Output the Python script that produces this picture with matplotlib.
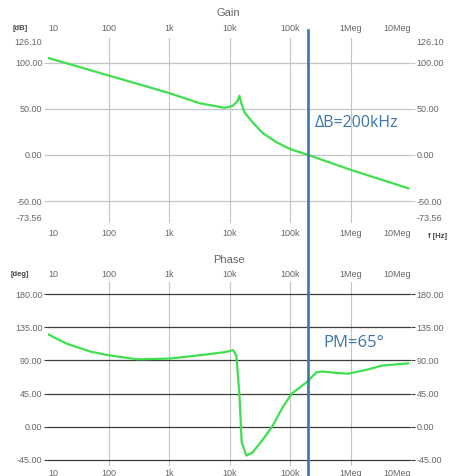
import matplotlib
matplotlib.use('Agg')
import matplotlib.pyplot as plt
from matplotlib.transforms import blended_transform_factory
from matplotlib.lines import Line2D

# Loop gain (Hz, dB)
gain_freq = [10, 30, 100, 300, 1e3, 3.2e3, 8.3e3, 11.2e3, 13.5e3, 14.6e3, 16e3, 17.7e3,
             24e3, 35e3, 59e3, 100e3, 200e3, 1e6, 9e6]
gain_db = [105, 96, 86, 77, 67, 56, 51, 53, 58, 64, 54, 46,
           35.5, 24, 14, 6.5, 0, -16, -36]

# Loop phase (Hz, deg)
phase_freq = [10, 20, 50, 100, 300, 1e3, 3.2e3, 8e3, 10e3, 11.5e3, 13e3, 14.6e3,
              15.9e3, 19e3, 24e3, 35e3, 51e3, 75e3, 107e3, 185e3, 271e3, 340e3,
              600e3, 910e3, 2e6, 3.3e6, 9e6]
phase_deg = [125.5, 113, 102, 97, 91.5, 92.5, 97, 101, 102.7, 104, 96, 43,
             -21, -39, -35, -18, 0.5, 26, 45, 60, 73.6, 75,
             73, 72, 78, 83, 86]

freq_ticks = [10, 100, 1e3, 1e4, 1e5, 1e6, 1e7]
freq_labels = ['10', '100', '1k', '10k', '100k', '1Meg', '10Meg']
gain_ticks = [126.10, 100, 50, 0, -50, -73.56]
phase_ticks = [180, 135, 90, 45, 0, -45]

crossover = 200e3
phase_margin = 65

GREEN = '#3fdf4f'
BLUE = '#3a75ad'
TXT = '#666666'

plt.rcParams['font.family'] = ['Liberation Sans', 'DejaVu Sans']

fig = plt.figure(figsize=(4.53, 4.76), dpi=100)
W, H = 453, 476
left, right = 48 / W, 411 / W
ax_g = fig.add_axes([left, 253 / H, right - left, 184.6 / H])
ax_p = fig.add_axes([left, 10 / H, right - left, 184 / H])


def style_freq_axis(ax, pad):
    ax.set_xscale('log')
    ax.set_xlim(10, 1e7)
    ax.set_xticks(freq_ticks)
    ax.set_xticklabels(freq_labels)
    ax.minorticks_off()
    ax.tick_params(axis='x', which='both', length=0, labeltop=True, labelbottom=True,
                   labelsize=6.5, labelcolor=TXT, pad=pad)
    ax.grid(axis='x', color='#c4c4c4', lw=0.8)
    ax.xaxis.get_gridlines()[0].set_visible(False)
    ax.xaxis.get_gridlines()[-1].set_visible(False)
    ticks = ax.xaxis.get_major_ticks()
    # end labels sit inside the plot edges
    ticks[0].label1.set_horizontalalignment('left')
    ticks[0].label2.set_horizontalalignment('left')
    ticks[-1].label1.set_horizontalalignment('right')
    ticks[-1].label2.set_horizontalalignment('right')
    for side in ax.spines.values():
        side.set_visible(False)


def style_value_axis(ax, ticks, lim, grid_color):
    ax.set_ylim(*lim)
    ax.set_yticks(ticks)
    ax.set_yticklabels(['%.2f' % v for v in ticks])
    ax.tick_params(axis='y', length=3, color=grid_color, labelleft=True, labelright=True,
                   left=True, right=True, labelsize=6.5, labelcolor=TXT, pad=1)
    ax.grid(axis='y', color=grid_color, lw=0.9)


# Gain panel
ax_g.plot(gain_freq, gain_db, color=GREEN, lw=1.6, solid_joinstyle='round')
style_freq_axis(ax_g, 4)
style_value_axis(ax_g, gain_ticks, (-73.56, 126.10), '#c4c4c4')
yt = ax_g.yaxis.get_major_ticks()
for i in (0, -1):
    ax_g.yaxis.get_gridlines()[i].set_visible(False)
    yt[i].tick1line.set_visible(False)
    yt[i].tick2line.set_visible(False)
# range labels are pulled inside the panel
yt[0].label1.set_verticalalignment('top')
yt[0].label2.set_verticalalignment('top')
yt[-1].label1.set_verticalalignment('bottom')
yt[-1].label2.set_verticalalignment('bottom')

# Phase panel
ax_p.plot(phase_freq, phase_deg, color=GREEN, lw=1.6, solid_joinstyle='round')
style_freq_axis(ax_p, 2)
style_value_axis(ax_p, phase_ticks, (-53.2, 196.4), '#3c3c3c')

# Titles and units
fig.text(228 / W, 1 - 13 / H, 'Gain', fontsize=8, color=TXT, ha='center', va='center')
fig.text(229 / W, 1 - 260 / H, 'Phase', fontsize=8, color=TXT, ha='center', va='center')
fig.text(20 / W, 1 - 28 / H, '[dB]', fontsize=5.5, fontweight='bold', color='#444',
         ha='center', va='center')
fig.text(20 / W, 1 - 275 / H, '[deg]', fontsize=5.5, fontweight='bold', color='#444',
         ha='center', va='center')
fig.text(438 / W, 1 - 236 / H, 'f [Hz]', fontsize=5.5, fontweight='bold', color='#444',
         ha='center', va='center')

# Crossover marker through both panels
tr = blended_transform_factory(ax_g.transData, fig.transFigure)
fig.add_artist(Line2D([crossover, crossover], [1 - 30 / H, 0], transform=tr,
                      color=BLUE, lw=1.9, zorder=5))

fig.text(315 / W, 1 - 123 / H, 'ΔB=%dkHz' % (crossover / 1e3), fontsize=11.5,
         color=BLUE, ha='left', va='center', family=['Open Sans', 'DejaVu Sans'])
fig.text(323 / W, 1 - 343 / H, 'PM=%d°' % phase_margin, fontsize=12,
         color=BLUE, ha='left', va='center', family=['Open Sans', 'DejaVu Sans'])

fig.savefig('out.png', dpi=100, facecolor='white')
